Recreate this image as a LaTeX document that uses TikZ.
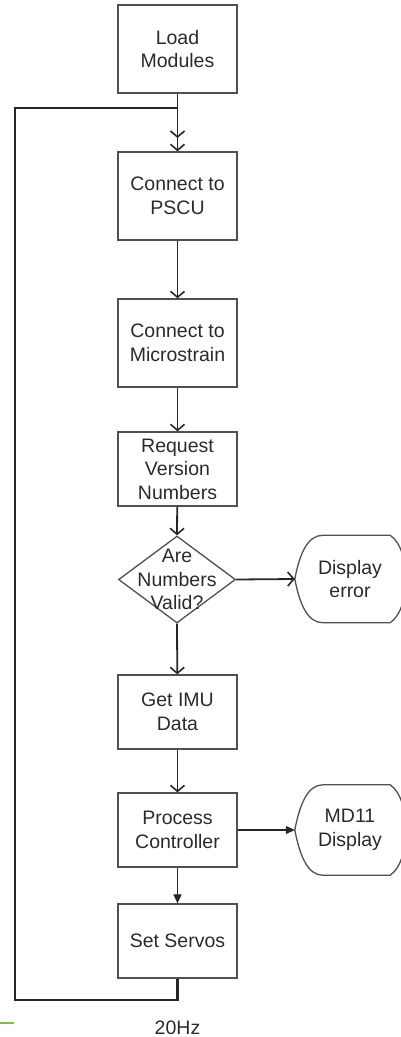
\documentclass[tikz,border=0pt]{standalone}
\usepackage{fontspec}
\setmainfont{Liberation Sans}
\usetikzlibrary{arrows.meta,shapes.geometric,calc}
\definecolor{txtc}{HTML}{2A2A2A}
\definecolor{boxc}{HTML}{505050}
\definecolor{grn}{HTML}{7AC143}
\begin{document}
\begin{tikzpicture}[x=1pt,y=-1pt,
  txt/.style={text=txtc,font=\fontsize{19.5}{23.5}\selectfont,align=center},
  procbox/.style={txt,draw=boxc,line width=1.3pt,minimum width=119,inner sep=0},
  dispbox/.style={txt,draw=none,minimum width=110,inner sep=0},
  flow/.style={line width=1.8pt,draw=black!85,-{Straight Barb[length=6pt,width=14pt,line width=1.6pt]}},
  flowf/.style={line width=1.2pt,draw=black!85,-{Triangle[length=9pt,width=8pt]}},
  loopl/.style={line width=2.2pt,draw=black!85},
  shapeline/.style={draw=boxc,line width=1.3pt}]
\useasboundingbox (0,0) rectangle (401,1037);

\node[procbox,minimum height=88] (load) at (177.5,49) {Load\\Modules};
\node[procbox,minimum height=88] (pscu) at (177.5,196) {Connect to\\PSCU};
\node[procbox,minimum height=88] (micro) at (177.5,343) {Connect to\\Microstrain};
\node[procbox,minimum height=74] (req) at (177.5,469) {Request\\Version\\Numbers};
\node[diamond,draw=boxc,line width=1.3pt,minimum width=117,minimum height=87,inner sep=0] (valid) at (177,579.5) {};
\node[txt] (validt) at (valid.center) {Are\\Numbers\\Valid?};
\node[procbox,minimum height=74] (imu) at (177.5,712) {Get IMU\\Data};
\node[procbox,minimum height=74] (proc) at (177.5,830) {Process\\Controller};
\node[procbox,minimum height=74] (servo) at (177.5,941) {Set Servos};

% display shapes
\node[dispbox,minimum height=87] (err) at (350,579) {Display\\error};
\node[dispbox,minimum height=90] (md) at (350,830) {MD11\\Display};
\foreach \n in {err,md}{
  \draw[shapeline] (\n.west)
    .. controls ($(\n.west)+(5,-26)$) and ($(\n.north west)+(13,0)$) .. ($(\n.north west)+(28,0)$)
    -- ($(\n.north east)+(-15,0)$)
    .. controls ($(\n.north east)+(6,14)$) and ($(\n.south east)+(6,-14)$) .. ($(\n.south east)+(-15,0)$)
    -- ($(\n.south west)+(28,0)$)
    .. controls ($(\n.south west)+(13,0)$) and ($(\n.west)+(5,26)$) .. (\n.west);
}

% main flow
\draw[flow] (load) -- (pscu);
\draw[flow] (pscu) -- (micro);
\draw[flow] (micro) -- (req);
\draw[flow] (req) -- (valid.north);
\draw[flow] (valid.south) -- (imu);
\draw[flow] (valid.east) -- (err.west);
\draw[flow] (imu) -- (proc);
\draw[flowf] (proc) -- (md.west);
\draw[flowf] (proc) -- (servo);

% loop
\coordinate (lb) at (177.5,1000);
\coordinate (lt) at (177.5,108);
\coordinate (ltip) at (177.5,138);
\draw[loopl] (servo.south) -- (lb) -- (15,1000) -- (15,108) -- (lt);
\draw[flow] (lt) -- (ltip);

\node[txt] (hz) at (177.5,1028) {20Hz};
\draw[grn,line width=2pt] (0,1023) -- (14,1023);
\end{tikzpicture}
\end{document}
